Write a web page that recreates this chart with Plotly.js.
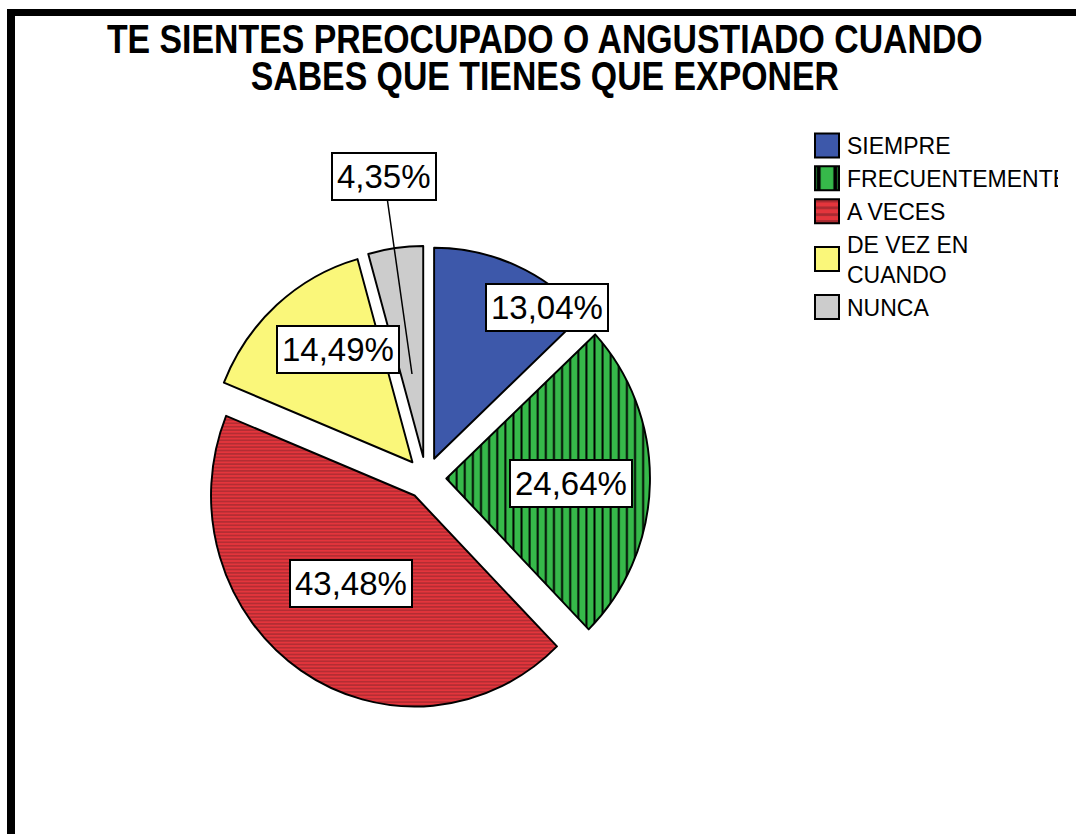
<!DOCTYPE html>
<html><head><meta charset="utf-8">
<script src="https://cdn.plot.ly/plotly-3.0.1.min.js"></script>
<style>
html,body{margin:0;padding:0;background:#fff;overflow:hidden}
#wrap{position:relative;width:1076px;height:834px;overflow:hidden}
#chart{position:absolute;left:0;top:0;width:1076px;height:834px}
#frame{position:absolute;left:7px;top:9px;width:1200px;height:1000px;border-left:8px solid #000;border-top:7px solid #000;pointer-events:none}
#clip{position:absolute;left:1058px;top:120px;width:20px;height:220px;background:#fff}
</style></head><body>
<div id="wrap"><div id="chart"></div><div id="frame"></div><div id="clip"></div></div>
<script>
// ---- data ----
const categories = ['SIEMPRE', 'FRECUENTEMENTE', 'A VECES', 'DE VEZ EN<br>CUANDO', 'NUNCA'];
const percentages = [13.04, 24.64, 43.48, 14.49, 4.35];
const titleLines = ['TE SIENTES PREOCUPADO O ANGUSTIADO CUANDO', 'SABES QUE TIENES QUE EXPONER'];

// ---- styles ----
const sliceColors = ['#3d58aa', '#36b94a', '#e4353c', '#faf77a', '#cccccc'];
const patShapes = ['', '|', '-', '', ''];
const patFg = ['#000000', '#000000', '#a82a30', '#000000', '#000000'];
const patSize = [8, 8.4, 3.4, 8, 8];
const patSolid = [0.2, 0.24, 0.4, 0.2, 0.2];

const W = 1076, H = 834;
// pie placement (px): centre and radius before pull
const PIE_CX = 426, PIE_CY = 478, PIE_R = 211, PULL = 0.1;
const PIE_SQUEEZE = 0.965;
// label box centres (px) for each slice, leader tip for the small slice
const labelBox = [[547, 308], [571, 484], [351, 583], [338, 349], [384, 176]];
const leaderTip = [null, null, null, null, [412, 374]];

const fmt = v => v.toFixed(2).replace('.', ',') + '%';
const half = PIE_R * (1 + PULL);

const trace = {
  type: 'pie',
  labels: categories,
  values: percentages,
  sort: false,
  direction: 'clockwise',
  rotation: 0,
  pull: percentages.map(() => PULL),
  textinfo: 'none',
  hoverinfo: 'label+percent',
  marker: {
    colors: sliceColors,
    line: {color: '#000', width: 2},
    pattern: {
      shape: patShapes,
      fgcolor: patFg,
      bgcolor: sliceColors,
      size: patSize,
      solidity: patSolid,
      fillmode: 'replace'
    }
  },
  domain: {
    x: [(PIE_CX - half) / W, (PIE_CX + half) / W],
    y: [(H - PIE_CY - half) / H, (H - PIE_CY + half) / H]
  }
};

const TITLE_FS = 40, TITLE_LINE_GAP = 37;
const annotations = [{
  text: titleLines.join('<br>'), xref: 'paper', yref: 'paper',
  x: 545 / W, y: 1 - (39 + TITLE_FS * 1.3 / 2) / H,
  xanchor: 'center', yanchor: 'middle', showarrow: false,
  font: {family: 'Liberation Sans, Arial', size: TITLE_FS, weight: 'bold', color: '#000'}
}];
percentages.forEach((v, i) => {
  const [bx, by] = labelBox[i];
  const tip = leaderTip[i];
  const a = {
    text: fmt(v), xref: 'paper', yref: 'paper',
    font: {family: 'Liberation Sans, Arial', size: 33, color: '#000'},
    bgcolor: '#ffffff', bordercolor: '#000000', borderwidth: 2, borderpad: 4
  };
  if (tip) {
    Object.assign(a, {x: tip[0] / W, y: 1 - tip[1] / H, showarrow: true, arrowhead: 0,
      arrowwidth: 1.5, arrowcolor: '#000', standoff: 0, ax: bx - tip[0], ay: by - tip[1]});
  } else {
    Object.assign(a, {x: bx / W, y: 1 - by / H, xanchor: 'center', yanchor: 'middle', showarrow: false});
  }
  annotations.push(a);
});

const layout = {
  width: W, height: H,
  margin: {l: 0, r: 0, t: 0, b: 0, autoexpand: false},
  paper_bgcolor: '#fff',
  showlegend: true,
  legend: {
    x: 807 / W, xanchor: 'left', y: 1 - 124 / H, yanchor: 'top',
    bgcolor: 'rgba(0,0,0,0)', borderwidth: 0,
    font: {family: 'Liberation Sans, Arial', size: 23, color: '#000'},
    traceorder: 'normal'
  },
  annotations: annotations
};

Plotly.newPlot('chart', [trace], layout, {displayModeBar: false, staticPlot: true}).then(() => {
  // bigger legend swatches
  document.querySelectorAll('.legend path.legendpie').forEach(p => {
    p.setAttribute('transform', 'translate(20,0) scale(2)');
    p.style.strokeWidth = '1px';
  });
  // condensed bold title with tight line spacing
  const g = document.querySelector('.annotation[data-index="0"]');
  if (g) {
    const t = g.querySelector('text');
    if (t) {
      t.querySelectorAll('tspan.line').forEach((sp, k) => {
        if (k > 0) sp.setAttribute('dy', (TITLE_LINE_GAP / TITLE_FS) + 'em');
      });
      t.style.transformBox = 'fill-box';
      t.style.transformOrigin = 'center';
      t.style.transform = 'scaleX(0.846)';
    }
  }
  // slightly oval pie as in the reference
  const pl = document.querySelector('.pielayer');
  if (pl) {
    pl.style.transformOrigin = PIE_CX + 'px ' + PIE_CY + 'px';
    pl.style.transform = 'scaleX(' + PIE_SQUEEZE + ')';
  }
});
</script>
</body></html>
